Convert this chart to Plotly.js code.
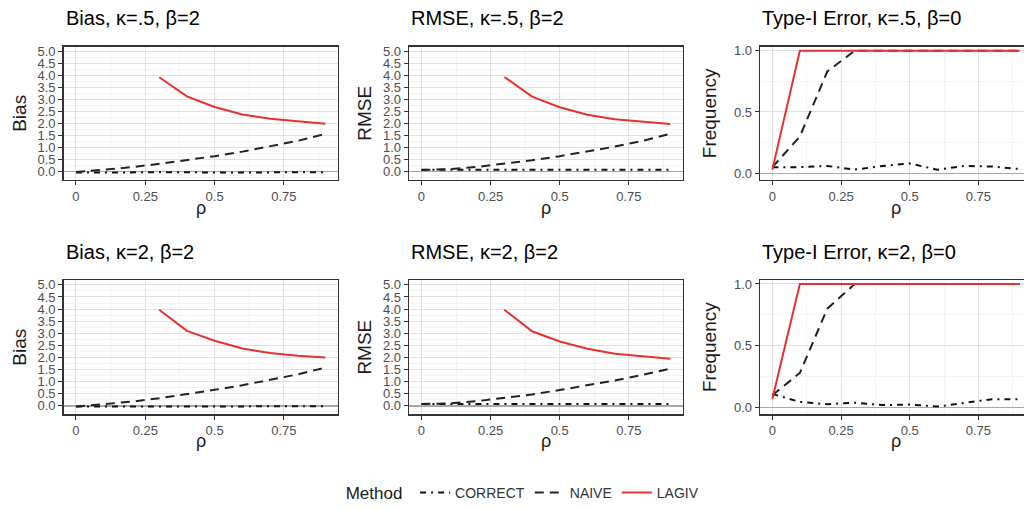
<!DOCTYPE html>
<html><head><meta charset="utf-8">
<script src="https://cdn.plot.ly/plotly-3.0.1.min.js"></script>
<style>html,body{margin:0;padding:0;overflow:hidden;background:#fff;width:1024px;height:510px}#chart{width:1040px;height:510px}</style>
</head><body><div id="chart"></div>
<script>
const rho = [0, 0.1, 0.2, 0.3, 0.4, 0.5, 0.6, 0.7, 0.8, 0.9];
const methods = ["CORRECT", "NAIVE", "LAGIV"];
const panelTitles = ["Bias, κ=.5, β=2", "RMSE, κ=.5, β=2", "Type-I Error, κ=.5, β=0",
                     "Bias, κ=2, β=2", "RMSE, κ=2, β=2", "Type-I Error, κ=2, β=0"];
const yTitles = ["Bias", "RMSE", "Frequency", "Bias", "RMSE", "Frequency"];
const xTitle = "ρ";

// Bias, kappa=.5
const biasK05_correct = [-0.04, -0.03, -0.04, -0.03, -0.03, -0.04, -0.03, -0.03, -0.04, -0.03];
const biasK05_naive   = [-0.02, 0.07, 0.18, 0.32, 0.47, 0.64, 0.83, 1.04, 1.28, 1.57];
const biasK05_lagiv   = [null, null, null, 3.93, 3.13, 2.69, 2.38, 2.20, 2.08, 1.99];
// RMSE, kappa=.5
const rmseK05_correct = [0.07, 0.07, 0.08, 0.07, 0.07, 0.07, 0.07, 0.07, 0.07, 0.07];
const rmseK05_naive   = [0.06, 0.10, 0.19, 0.32, 0.47, 0.64, 0.83, 1.04, 1.28, 1.57];
const rmseK05_lagiv   = [null, null, null, 3.94, 3.12, 2.68, 2.37, 2.18, 2.07, 1.98];
// Type-I error, kappa=.5
const typeIK05_correct = [0.05, 0.05, 0.06, 0.03, 0.06, 0.08, 0.03, 0.06, 0.055, 0.035];
const typeIK05_naive   = [0.05, 0.30, 0.83, 1.0, 1.0, 1.0, 1.0, 1.0, 1.0, 1.0];
const typeIK05_lagiv   = [0.03, 1.0, 1.0, 1.0, 1.0, 1.0, 1.0, 1.0, 1.0, 1.0];
// Bias, kappa=2
const biasK2_correct = [-0.03, -0.02, -0.02, -0.03, -0.03, -0.02, -0.02, -0.02, -0.02, -0.02];
const biasK2_naive   = [-0.03, 0.06, 0.17, 0.31, 0.47, 0.66, 0.85, 1.06, 1.30, 1.58];
const biasK2_lagiv   = [null, null, null, 3.97, 3.10, 2.69, 2.37, 2.18, 2.07, 2.00];
// RMSE, kappa=2
const rmseK2_correct = [0.07, 0.07, 0.07, 0.07, 0.07, 0.07, 0.07, 0.07, 0.07, 0.07];
const rmseK2_naive   = [0.07, 0.10, 0.19, 0.32, 0.47, 0.65, 0.84, 1.05, 1.28, 1.54];
const rmseK2_lagiv   = [null, null, null, 3.97, 3.08, 2.66, 2.36, 2.15, 2.04, 1.95];
// Type-I error, kappa=2
const typeIK2_correct = [0.11, 0.046, 0.027, 0.04, 0.02, 0.025, 0.008, 0.035, 0.068, 0.068];
const typeIK2_naive   = [0.10, 0.28, 0.80, 1.0, 1.0, 1.0, 1.0, 1.0, 1.0, 1.0];
const typeIK2_lagiv   = [0.07, 1.0, 1.0, 1.0, 1.0, 1.0, 1.0, 1.0, 1.0, 1.0];

const panelData = [
  [biasK05_correct, biasK05_naive, biasK05_lagiv],
  [rmseK05_correct, rmseK05_naive, rmseK05_lagiv],
  [typeIK05_correct, typeIK05_naive, typeIK05_lagiv],
  [biasK2_correct, biasK2_naive, biasK2_lagiv],
  [rmseK2_correct, rmseK2_naive, rmseK2_lagiv],
  [typeIK2_correct, typeIK2_naive, typeIK2_lagiv]
];

const W = 1040, H = 510;
const FONT = '"Liberation Sans", Arial, sans-serif';
const lineStyles = [
  {color: '#111111', width: 2, dash: '6px,5px,2px,5px'},
  {color: '#222222', width: 2, dash: '9px,6px'},
  {color: '#E8312F', width: 2, dash: 'solid'}
];
const xDomPx = [[63.5, 338], [409, 682.7], [760, 1032]];
const yDomPx = [[47, 181], [281.7, 416.7]];

const traces = [];
const layout = {
  width: W, height: H,
  margin: {l: 0, r: 0, t: 0, b: 0},
  paper_bgcolor: '#fff', plot_bgcolor: '#fff',
  font: {family: FONT, color: '#000'},
  showlegend: true,
  legend: {orientation: 'h', x: 0.504, xanchor: 'center', y: 0.027, yanchor: 'middle',
           title: {text: 'Method ', font: {size: 17, color: '#1a1a1a'}, side: 'left'},
           font: {size: 14, color: '#333'}, itemwidth: 30, tracegroupgap: 0, traceorder: 'normal'},
  annotations: []
};

for (let p = 0; p < 6; p++) {
  const r = Math.floor(p / 3), c = p % 3;
  const sfx = p === 0 ? '' : String(p + 1);
  const isType = c === 2;
  for (let m = 0; m < 3; m++) {
    traces.push({
      type: 'scatter', mode: 'lines', x: rho, y: panelData[p][m],
      name: methods[m], legendgroup: methods[m], showlegend: p === 0,
      line: lineStyles[m], connectgaps: false,
      xaxis: 'x' + sfx, yaxis: 'y' + sfx, hoverinfo: 'skip'
    });
  }
  const xd = [xDomPx[c][0] / W, xDomPx[c][1] / W];
  const yd = [1 - yDomPx[r][1] / H, 1 - yDomPx[r][0] / H];
  layout['xaxis' + sfx] = {
    domain: xd, anchor: 'y' + sfx, range: [-0.045, 0.945],
    tickmode: 'linear', tick0: 0, dtick: 0.25,
    ticks: 'outside', ticklen: 4, tickcolor: '#333', tickwidth: 1,
    tickfont: {size: 13, color: '#4D4D4D'},
    showline: true, mirror: true, linecolor: '#333', linewidth: 1.3,
    showgrid: true, gridcolor: '#E0E0E0', gridwidth: 1,
    minor: {dtick: 0.125, tick0: 0, showgrid: true, gridcolor: '#EEEEEE', gridwidth: 0.7, ticks: ''},
    zeroline: false
  };
  layout['yaxis' + sfx] = {
    domain: yd, anchor: 'x' + sfx,
    range: isType ? [-0.054, 1.032] : [-0.35, 5.2],
    tickmode: 'linear', tick0: 0, dtick: 0.5, tickformat: '.1f',
    ticks: 'outside', ticklen: 4, tickcolor: '#333', tickwidth: 1,
    tickfont: {size: 13, color: '#4D4D4D'},
    showline: true, mirror: true, linecolor: '#333', linewidth: 1.3,
    showgrid: true, gridcolor: '#E0E0E0', gridwidth: 1,
    minor: {dtick: 0.25, tick0: 0, showgrid: true, gridcolor: '#EEEEEE', gridwidth: 0.7, ticks: ''},
    zeroline: true, zerolinecolor: '#A8A8A8', zerolinewidth: 1.6,
    title: {text: yTitles[p], font: {size: 19, color: '#1a1a1a'}, standoff: isType ? 12 : 6}
  };
  layout.annotations.push({
    text: panelTitles[p], xref: 'paper', yref: 'paper',
    x: xd[0], xanchor: 'left', y: 1 - (r === 0 ? 18.5 : 253.5) / H, yanchor: 'middle',
    showarrow: false, font: {size: 20, color: '#000'}
  });
  layout.annotations.push({
    text: xTitle, xref: 'paper', yref: 'paper',
    x: (xd[0] + xd[1]) / 2, xanchor: 'center', y: 1 - (r === 0 ? 209.5 : 443.5) / H, yanchor: 'middle',
    showarrow: false, font: {size: 18, color: '#1a1a1a'}
  });
}

Plotly.newPlot('chart', traces, layout, {staticPlot: true});
</script></body></html>
